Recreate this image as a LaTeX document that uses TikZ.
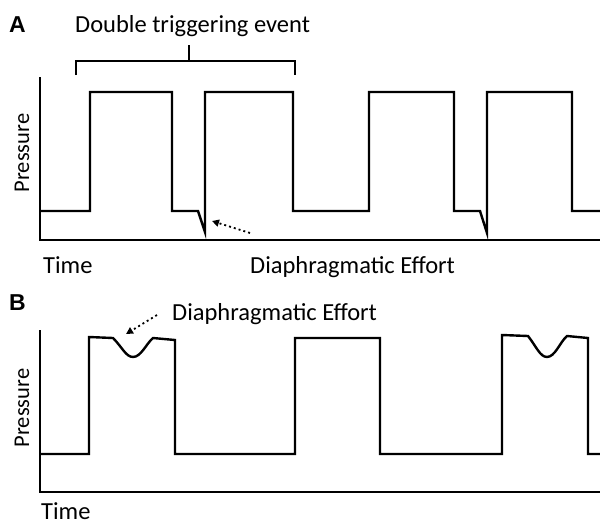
\documentclass[tikz,border=0pt]{standalone}
\usepackage{fontspec}
\setmainfont{Carlito}
\newfontfamily\panelfont{Liberation Sans}
\usetikzlibrary{arrows.meta}
\begin{document}
\begin{tikzpicture}[x=1pt,y=-1pt,
  wave/.style={line width=2.4pt,line join=miter,line cap=butt},
  axisline/.style={line width=2.4pt},
  lbl/.style={font=\fontsize{24.5}{28}\selectfont,inner sep=0pt},
  ylbl/.style={font=\fontsize{22.5}{26}\selectfont,inner sep=0pt,rotate=90},
  panel/.style={font=\panelfont\bfseries\fontsize{23}{26}\selectfont,inner sep=0pt},
  effortarrow/.style={line width=1.8pt,dash pattern=on 2pt off 3pt,-{Triangle[length=7pt,width=7pt]}}]
\useasboundingbox (0,0) rectangle (600,525);

% ---------------- Panel A ----------------
\node[panel,anchor=base west] (pA) at (9,32) {A};
\node[lbl,anchor=base west] (dte) at (75,32) {Double triggering event};
% bracket over the double-triggered breaths
\draw[line width=1.8pt] (76,75) -- (76,61) -- (295,61) -- (295,75);
\draw[line width=1.8pt] (189,61) -- (189,45);
% axes
\draw[axisline] (40,77) -- (40,240) -- (600,240);
\node[ylbl] (presA) at (22,153) {Pressure};
\node[lbl,anchor=base west] (timeA) at (43,273) {Time};
\node[lbl,anchor=base west] (effA) at (250,273) {Diaphragmatic Effort};
% pressure trace
\draw[wave] (40,211) -- (90,211) -- (90,92) -- (172,92) -- (172,211) -- (198,211)
  -- (205,232) -- (205,92) -- (293,92) -- (293,211) -- (369,211) -- (369,92)
  -- (454,92) -- (454,211) -- (480,211) -- (487,233) -- (487,92) -- (572,92)
  -- (572,211) -- (600,211);
\coordinate (tailA) at (250,233);
\coordinate (tipA) at (212,221);
\draw[effortarrow] (tailA) -- (tipA);

% ---------------- Panel B ----------------
\node[panel,anchor=base west] (pB) at (9,310) {B};
\node[lbl,anchor=base west] (effB) at (172,320) {Diaphragmatic Effort};
% axes
\draw[axisline] (40,330) -- (40,492) -- (600,492);
\node[ylbl] (presB) at (22,408) {Pressure};
\node[lbl,anchor=base west] (timeB) at (41,519) {Time};
% pressure trace with effort dips
\draw[wave] (40,454) -- (89,454) -- (89,337) -- (113,338)
  .. controls (122,347) and (126,357) .. (133,357)
  .. controls (141,357) and (146,344) .. (153,338)
  -- (175,340) -- (175,454) -- (295,454) -- (295,338) -- (380,338)
  -- (380,454) -- (502,454) -- (502,335) -- (528,336)
  .. controls (536,346) and (540,357) .. (547,357)
  .. controls (555,357) and (560,342) .. (567,336)
  -- (588,338) -- (588,454) -- (600,454);
\coordinate (tailB) at (157,315);
\coordinate (tipB) at (126,334);
\draw[effortarrow] (tailB) -- (tipB);
\end{tikzpicture}
\end{document}
